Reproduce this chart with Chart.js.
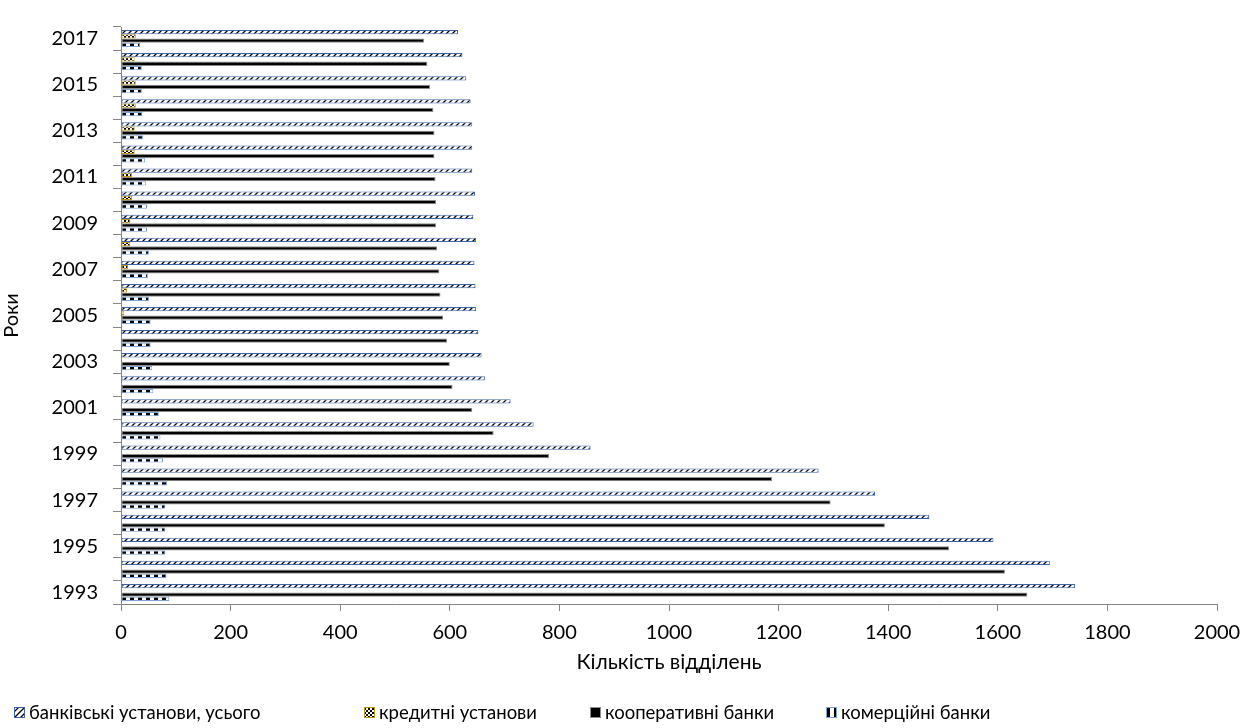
<!DOCTYPE html>
<html>
<head>
<meta charset="utf-8">
<script src="https://cdn.jsdelivr.net/npm/chart.js@4/dist/chart.umd.min.js"></script>
<style>
  html, body { margin: 0; padding: 0; background: #fff; }
  #wrap { width: 1257px; height: 728px; position: relative; }
</style>
</head>
<body>
<div id="wrap"><canvas id="chart" width="1257" height="728"></canvas></div>
<script>
// years, bottom to top
const years = ['1993', '1994', '1995', '1996', '1997', '1998', '1999', '2000', '2001', '2002',
  '2003', '2004', '2005', '2006', '2007', '2008', '2009', '2010', '2011', '2012',
  '2013', '2014', '2015', '2016', '2017'];

const totalInst = [1741, 1695, 1592, 1475, 1376, 1273, 857, 753, 711, 664,
  658, 652, 648, 647, 645, 648, 643, 646, 641, 641,
  641, 638, 630, 623, 615];
const creditInst = [null, null, null, null, null, null, null, null, null, null,
  null, 2, 6, 11, 13, 17, 17, 20, 20, 25,
  25, 27, 27, 25, 27];
const coopBanks = [1654, 1613, 1511, 1394, 1295, 1188, 781, 680, 641, 605,
  600, 595, 588, 583, 581, 577, 575, 575, 574, 572,
  572, 570, 564, 559, 553];
const commBanks = [88, 83, 81, 81, 81, 84, 77, 72, 69, 59,
  57, 54, 54, 51, 49, 51, 48, 48, 46, 44,
  40, 39, 38, 38, 35];

const seriesNames = ['банківські установи, усього', 'кредитні установи', 'кооперативні банки', 'комерційні банки'];

const FONT = "Lato, 'Noto Sans', sans-serif";

function makePattern(w, h, draw) {
  const c = document.createElement('canvas');
  c.width = w; c.height = h;
  const g = c.getContext('2d');
  g.fillStyle = '#fff';
  g.fillRect(0, 0, w, h);
  draw(g);
  return g.createPattern(c, 'repeat');
}

const ctx = document.getElementById('chart').getContext('2d');

// diagonal hatch for the totals
const hatch = makePattern(6, 6, g => {
  g.strokeStyle = '#000';
  g.lineWidth = 1.3;
  g.beginPath();
  g.moveTo(0, 6); g.lineTo(6, 0);
  g.moveTo(-1, 1); g.lineTo(1, -1);
  g.moveTo(5, 7); g.lineTo(7, 5);
  g.stroke();
});
// small checker for credit institutions
const checker = makePattern(4, 4, g => {
  g.fillStyle = '#000';
  g.fillRect(0, 0, 2, 2);
  g.fillRect(2, 2, 2, 2);
});
// wide vertical stripes for commercial banks
const vstripe = makePattern(8, 8, g => {
  g.fillStyle = '#000';
  g.fillRect(2, 0, 4, 8);
});

const fills = [hatch, checker, '#000', vstripe];
const borders = ['#3c64a8', '#c4940c', '#8c8c8c', '#7ea3d4'];

const legendPos = [14, 364, 590, 826];

const bottomLegend = {
  id: 'bottomLegend',
  afterDraw(chart) {
    const c = chart.ctx;
    c.save();
    c.font = '18.5px ' + FONT;
    c.textBaseline = 'middle';
    chart.data.datasets.forEach((ds, i) => {
      const x = legendPos[i], y = 713;
      c.fillStyle = ds.backgroundColor;
      c.fillRect(x, y - 6, 11, 11);
      c.strokeStyle = ds.borderColor;
      c.lineWidth = 1;
      c.strokeRect(x + 0.5, y - 5.5, 10, 10);
      c.fillStyle = '#000';
      c.fillText(ds.label, x + 15, y);
    });
    c.restore();
  }
};

const data = [totalInst, creditInst, coopBanks, commBanks];

new Chart(ctx, {
  type: 'bar',
  data: {
    labels: years,
    datasets: data.map((vals, i) => ({
      label: seriesNames[i],
      data: vals,
      backgroundColor: fills[i],
      borderColor: borders[i],
      borderWidth: 1,
      borderSkipped: false,
      categoryPercentage: 0.74,
      barPercentage: 1.0
    }))
  },
  options: {
    indexAxis: 'y',
    responsive: false,
    animation: false,
    layout: { padding: { top: 8, right: 40, bottom: 50, left: 0 } },
    plugins: {
      legend: { display: false },
      tooltip: { enabled: false }
    },
    scales: {
      x: {
        min: 0,
        max: 2000,
        ticks: {
          stepSize: 200, color: '#000', font: { family: FONT, size: 20 }, padding: 10, maxRotation: 0,
          callback: v => String(v)
        },
        grid: { drawOnChartArea: false, drawTicks: true, tickLength: 7, color: '#868686' },
        border: { color: '#868686' },
        title: { display: true, text: 'Кількість відділень', color: '#000', font: { family: FONT, size: 21 }, padding: { top: 0, bottom: 3 } },
        afterFit: s => { s.height = 74; }
      },
      y: {
        reverse: true,
        ticks: {
          color: '#000',
          font: { family: FONT, size: 20 },
          padding: 15,
          autoSkip: false,
          callback: (v, i) => (i % 2 === 0 ? years[i] : '')
        },
        grid: { drawOnChartArea: false, drawTicks: true, tickLength: 8, color: '#868686', offset: true },
        border: { color: '#868686' },
        title: { display: true, text: 'Роки', color: '#000', font: { family: FONT, size: 20 }, padding: { top: 0, bottom: 2 } },
        afterFit: s => { s.width = 121; }
      }
    }
  },
  plugins: [bottomLegend]
});
</script>
</body>
</html>
